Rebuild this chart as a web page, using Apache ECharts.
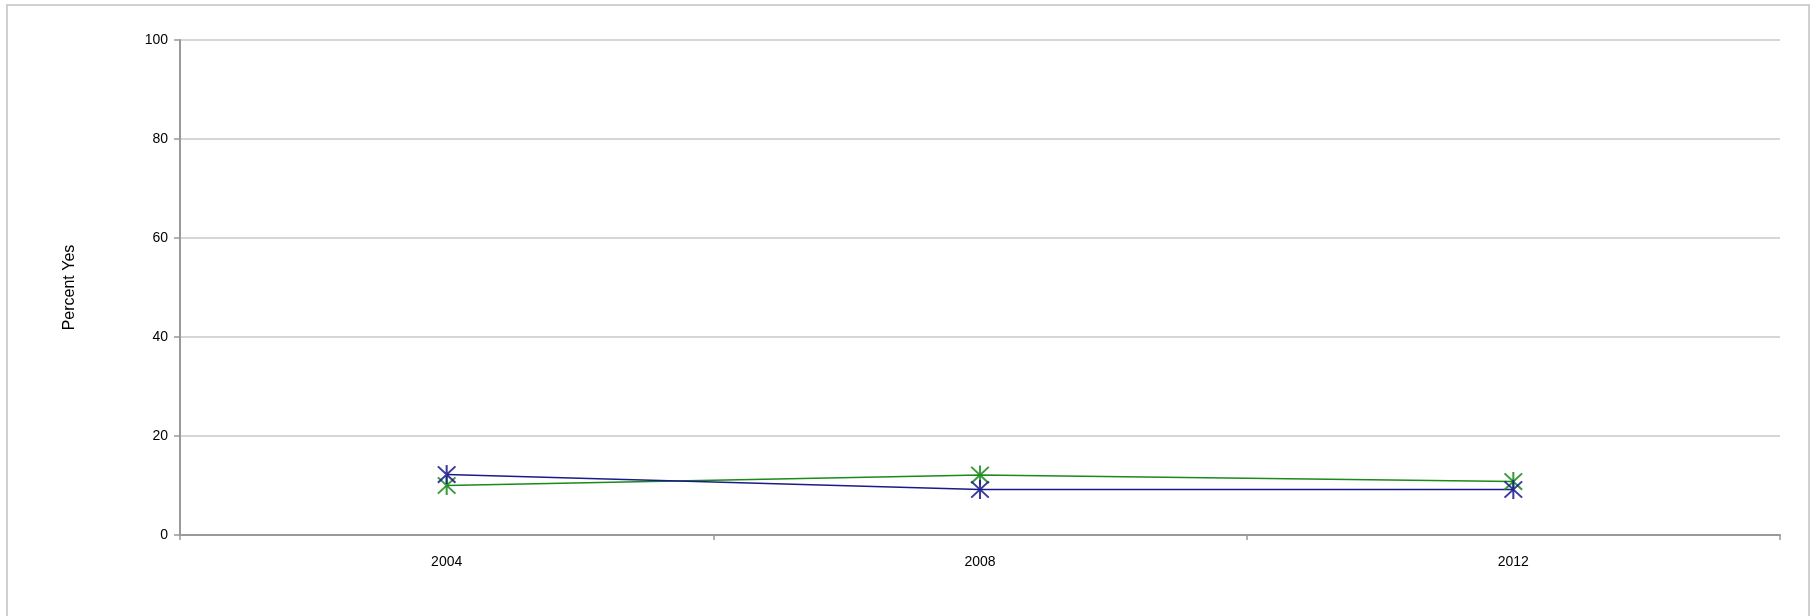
<!DOCTYPE html>
<html><head><meta charset="utf-8">
<script src="https://cdn.jsdelivr.net/npm/echarts@6/dist/echarts.min.js"></script>
<style>html,body{margin:0;padding:0;background:#fff}#c{width:1815px;height:616px;box-sizing:border-box}
#frame{position:absolute;left:6px;top:4px;width:1804px;height:620px;border:2px solid #d0d0d0;box-sizing:border-box;pointer-events:none}</style>
</head><body><div id="c"></div><div id="frame"></div>
<script>
const years = ['2004', '2008', '2012'];
const blueSeries = [12.2, 9.2, 9.2];
const greenSeries = [10.0, 12.1, 10.8];
const yTicks = [0, 20, 40, 60, 80, 100];

const star = 'path://M9,0 L11,0 L11,20 L9,20 Z M0.7,2.1 L2.1,0.7 L19.3,17.9 L17.9,19.3 Z M17.9,0.7 L19.3,2.1 L2.1,19.3 L0.7,17.9 Z';
const chart = echarts.init(document.getElementById('c'));
function ser(name, data, color) {
  return {
    name, type: 'line', data,
    symbol: star, symbolSize: 19,
    lineStyle: { color, width: 1.5 },
    itemStyle: { color, opacity: 0.85 },
    emphasis: { disabled: true }, animation: false
  };
}
chart.setOption({
  animation: false,
  grid: { left: 180, right: 35, top: 40, bottom: 81, containLabel: false },
  xAxis: {
    type: 'category', data: years, boundaryGap: true,
    axisLine: { lineStyle: { color: '#999', width: 2 } },
    axisTick: { show: true, length: 5, interval: 0, lineStyle: { color: '#999', width: 1.5 } },
    axisLabel: { color: '#000', fontFamily: 'Liberation Sans', fontSize: 14, margin: 20 },
    splitLine: { show: false }
  },
  yAxis: {
    type: 'value', min: 0, max: 100, interval: 20,
    name: 'Percent Yes', nameLocation: 'middle', nameGap: 102, nameRotate: 90,
    nameTextStyle: { color: '#000', fontFamily: 'Liberation Sans', fontSize: 16 },
    axisLine: { show: true, lineStyle: { color: '#999', width: 2 } },
    axisTick: { show: true, length: 6, inside: false, lineStyle: { color: '#999', width: 1.5 } },
    axisLabel: { color: '#000', fontFamily: 'Liberation Sans', fontSize: 14, margin: 12,
      formatter: v => yTicks.includes(v) ? String(v) : '' },
    splitLine: { show: true, lineStyle: { color: '#c8c8c8', width: 1.5 } }
  },
  series: [ser('Green', greenSeries, '#1a8a1a'), ser('Blue', blueSeries, '#1a1a8a')]
});
</script></body></html>
